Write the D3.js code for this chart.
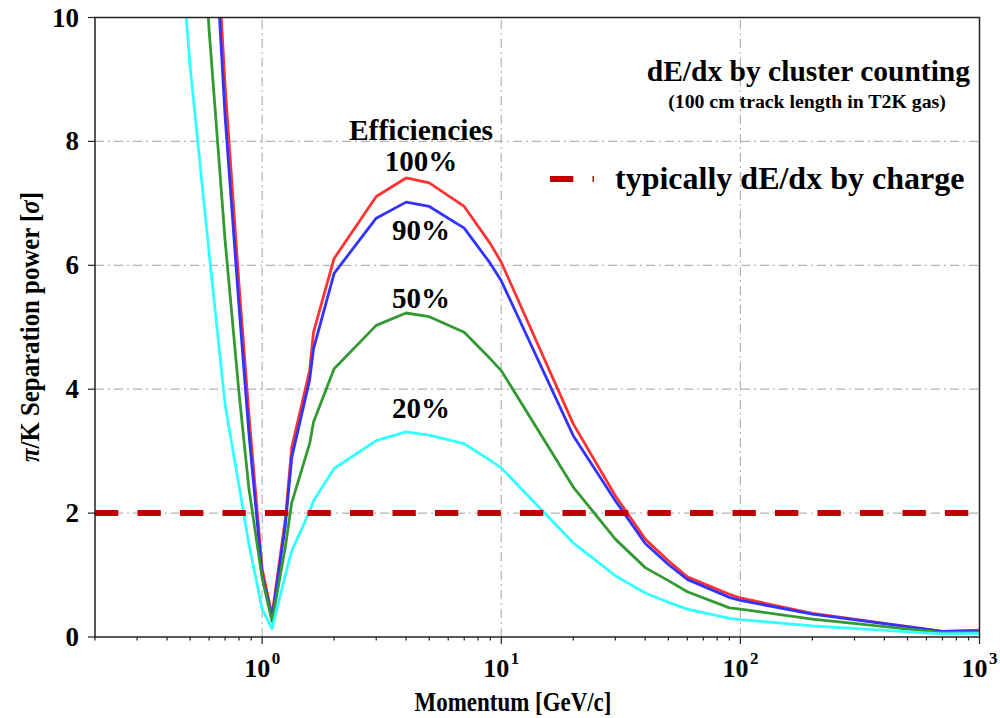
<!DOCTYPE html>
<html>
<head>
<meta charset="utf-8">
<script src="https://cdn.jsdelivr.net/npm/d3@7"></script>
<style>
  html, body { margin: 0; padding: 0; background: #ffffff; }
  svg { display: block; font-family: "Liberation Serif", "Times New Roman", serif; font-weight: bold; }
</style>
</head>
<body>
<svg id="chart" width="1000" height="718"></svg>
<script>
// Momentum sample points [GeV/c]
const momentum = [0.4, 0.5, 0.6, 0.7, 0.8, 0.88, 1.0, 1.1, 1.25, 1.33, 1.58, 1.64, 2, 3, 4, 5, 7, 9, 10,
                  20, 30, 40, 50, 60, 90, 100, 200, 700, 1000];

// pi/K separation power [sigma] for each cluster-counting efficiency
const eff100 = [35, 22, 13.5, 8.9, 5.7, 3.6, 1.1, 0.35, 1.9, 3.06, 4.3, 4.92, 6.11, 7.11, 7.41, 7.33, 6.95, 6.35, 6.05,
                3.44, 2.28, 1.58, 1.23, 0.97, 0.69, 0.63, 0.38, 0.09, 0.11];
const eff90  = [33, 21, 13, 8.4, 5.35, 3.3, 1.0, 0.3, 1.8, 2.9, 4.15, 4.65, 5.87, 6.76, 7.02, 6.95, 6.60, 6.03, 5.75,
                3.25, 2.20, 1.51, 1.17, 0.93, 0.64, 0.59, 0.37, 0.09, 0.10];
const eff50  = [25, 15, 9.8, 6.4, 3.95, 2.4, 0.95, 0.25, 1.45, 2.17, 3.12, 3.47, 4.33, 5.03, 5.23, 5.17, 4.92, 4.49, 4.30,
                2.42, 1.58, 1.12, 0.91, 0.73, 0.47, 0.45, 0.29, 0.07, 0.08];
const eff20  = [14, 9.2, 6.2, 3.75, 2.45, 1.5, 0.45, 0.13, 1.0, 1.39, 2.03, 2.2, 2.72, 3.17, 3.31, 3.26, 3.12, 2.85, 2.73,
                1.52, 0.99, 0.71, 0.56, 0.45, 0.30, 0.28, 0.18, 0.05, 0.06];

const seriesNames = ["100%", "90%", "50%", "20%"];
const seriesColors = ["#ff3333", "#3333ff", "#339933", "#33ffff"];
const seriesValues = [eff100, eff90, eff50, eff20];

// Typical charge-measurement dE/dx separation
const chargeLevel = 2;

const yTicks = [0, 2, 4, 6, 8, 10];
const xDecades = [1, 10, 100, 1000];
const xExponents = ["0", "1", "2", "3"];

const svg = d3.select("#chart");
const margin = { left: 95, right: 20.5, top: 17.5, bottom: 81 };
const W = 1000, H = 718;

const x = d3.scaleLog().domain([0.2, 1000]).range([margin.left, W - margin.right]);
const y = d3.scaleLinear().domain([0, 10]).range([H - margin.bottom, margin.top]);

svg.append("defs").append("clipPath").attr("id", "plotclip")
  .append("rect")
  .attr("x", margin.left).attr("y", margin.top)
  .attr("width", W - margin.left - margin.right)
  .attr("height", H - margin.top - margin.bottom);

// Grid (dash-dot)
const grid = svg.append("g").attr("stroke", "#b4b4b4").attr("stroke-width", 1.2)
  .attr("stroke-dasharray", "9,4,2,4");
grid.selectAll("line.v").data(xDecades.slice(0, 3)).join("line")
  .attr("x1", d => x(d)).attr("x2", d => x(d))
  .attr("y1", y(0)).attr("y2", y(10));
grid.selectAll("line.h").data(yTicks.slice(1, 5)).join("line")
  .attr("x1", x(0.2)).attr("x2", x(1000))
  .attr("y1", d => y(d)).attr("y2", d => y(d));

// Curves
const line = d3.line().x((d, i) => x(momentum[i])).y(d => y(d));
const curves = svg.append("g").attr("clip-path", "url(#plotclip)");
seriesValues.forEach((vals, k) => {
  curves.append("path")
    .attr("d", line(vals))
    .attr("fill", "none")
    .attr("stroke", seriesColors[k])
    .attr("stroke-width", 2.8)
    .attr("stroke-linejoin", "round");
});

// Charge dE/dx reference line
curves.append("line")
  .attr("x1", x(0.2)).attr("x2", x(1000))
  .attr("y1", y(chargeLevel)).attr("y2", y(chargeLevel))
  .attr("stroke", "#c00000").attr("stroke-width", 6)
  .attr("stroke-dasharray", "23.3,19.2");

// Frame
svg.append("rect")
  .attr("x", margin.left).attr("y", margin.top)
  .attr("width", W - margin.left - margin.right)
  .attr("height", H - margin.top - margin.bottom)
  .attr("fill", "none").attr("stroke", "#222").attr("stroke-width", 1.5);

// X axis ticks (major + minor)
const minor = [];
[0.1, 1, 10, 100].forEach(dec => { for (let m = 2; m <= 9; m++) { const v = dec * m; if (v >= 0.2 && v < 1000) minor.push(v); } });
const xt = svg.append("g").attr("stroke", "#222").attr("stroke-width", 1.2);
xt.selectAll("line.maj").data(xDecades).join("line")
  .attr("x1", d => x(d)).attr("x2", d => x(d))
  .attr("y1", y(0)).attr("y2", y(0) + 7);
xt.selectAll("line.min").data(minor).join("line")
  .attr("x1", d => x(d)).attr("x2", d => x(d))
  .attr("y1", y(0)).attr("y2", y(0) + 3.5);

const xl = svg.append("g").attr("text-anchor", "middle").attr("fill", "#000");
xDecades.forEach((d, i) => {
  const t = xl.append("text").attr("x", x(d)).attr("y", y(0) + 40).attr("font-size", 26);
  t.append("tspan").text("10");
  t.append("tspan").attr("dx", 1.5).attr("dy", -13).attr("font-size", 17).text(xExponents[i]);
});

// Y axis ticks
const yt = svg.append("g");
yt.selectAll("line").data(yTicks).join("line")
  .attr("x1", margin.left - 7).attr("x2", margin.left)
  .attr("y1", d => y(d)).attr("y2", d => y(d))
  .attr("stroke", "#222").attr("stroke-width", 1.2);
yt.selectAll("text").data(yTicks).join("text")
  .attr("x", margin.left - 16).attr("y", d => y(d) + 9)
  .attr("text-anchor", "end").attr("font-size", 27)
  .text(d => d);

// Axis titles (slightly condensed serif)
svg.append("text")
  .attr("transform", "translate(513, 711) scale(0.85, 1)")
  .attr("text-anchor", "middle").attr("font-size", 27)
  .text("Momentum [GeV/c]");

const yTitle = svg.append("text")
  .attr("transform", `translate(39, 327) rotate(-90) scale(0.92, 1)`)
  .attr("text-anchor", "middle").attr("font-size", 27);
yTitle.append("tspan").attr("font-style", "italic").text("π");
yTitle.append("tspan").text("/K Separation power [");
yTitle.append("tspan").attr("font-style", "italic").text("σ");
yTitle.append("tspan").text("]");

// Annotations
svg.append("text").attr("x", 970).attr("y", 81).attr("text-anchor", "end")
  .attr("font-size", 29.5).text("dE/dx by cluster counting");
svg.append("text").attr("x", 807).attr("y", 108).attr("text-anchor", "middle")
  .attr("font-size", 19.8).text("(100 cm track length in T2K gas)");

svg.append("text").attr("x", 421).attr("y", 140).attr("text-anchor", "middle")
  .attr("font-size", 29.5).text("Efficiencies");
const labelY = [171, 240, 308, 418];
seriesNames.forEach((n, k) => {
  svg.append("text").attr("x", 421).attr("y", labelY[k]).attr("text-anchor", "middle")
    .attr("font-size", 29).text(n);
});

// Legend
svg.append("line").attr("x1", 550).attr("x2", 594).attr("y1", 179).attr("y2", 179)
  .attr("stroke", "#c00000").attr("stroke-width", 6).attr("stroke-dasharray", "23.3,19.2");
svg.append("text").attr("x", 615).attr("y", 189).attr("font-size", 32)
  .text("typically dE/dx by charge");
</script>
</body>
</html>
